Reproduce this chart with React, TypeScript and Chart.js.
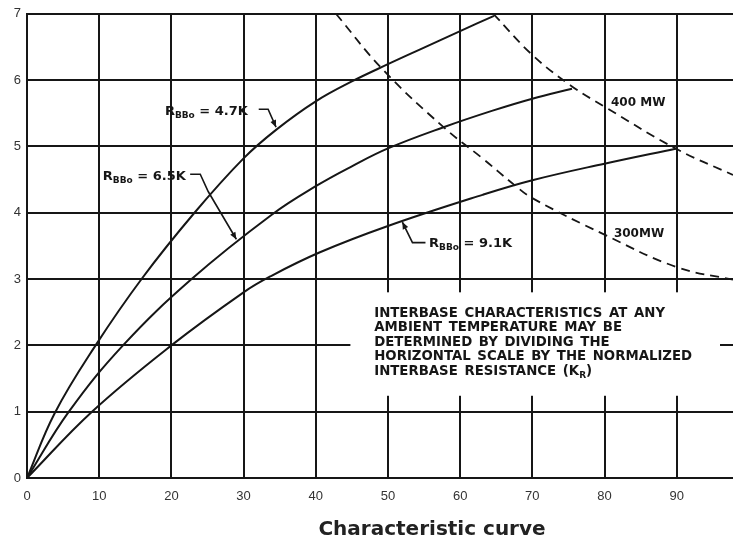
import React, { useEffect, useRef } from "react";
import { Chart, registerables } from "chart.js";

Chart.register(...registerables);

// Axis ticks
const xTicks = [0, 10, 20, 30, 40, 50, 60, 70, 80, 90];
const yTicks = [0, 1, 2, 3, 4, 5, 6, 7];
const xMax = 97.8;
const yMax = 7;

// Interbase characteristic, RBBo = 4.7K
const rbb47X = [0, 3.8, 9.5, 16, 23.2, 30, 34.5, 40, 45, 50, 55, 60, 64.7];
const rbb47Y = [0, 0.97, 2, 3.02, 4, 4.82, 5.25, 5.68, 5.98, 6.24, 6.49, 6.74, 6.97];

// Interbase characteristic, RBBo = 6.5K
const rbb65X = [0, 5.8, 13.3, 22.8, 33.9, 40, 45, 50, 57.7, 64.5, 70, 75.5];
const rbb65Y = [0, 1, 2, 3, 3.97, 4.4, 4.7, 4.97, 5.29, 5.54, 5.72, 5.87];

// Interbase characteristic, RBBo = 9.1K
const rbb91X = [0, 9, 20, 30, 33.7, 40.5, 50, 63.1, 70, 80, 90];
const rbb91Y = [0, 1, 2, 2.8, 3.04, 3.4, 3.8, 4.27, 4.49, 4.74, 4.97];

// Power dissipation limits
const mw400X = [64.6, 70, 75.3, 80, 90, 97.8];
const mw400Y = [7.0, 6.38, 5.92, 5.6, 4.96, 4.57];
const mw300X = [42.8, 49.2, 57.7, 63.1, 67.5, 70, 80, 90, 97.8];
const mw300Y = [7.0, 6.17, 5.29, 4.82, 4.42, 4.22, 3.67, 3.18, 2.99];

// Curve labels (text baseline start, leader polyline ending on the curve)
const curveNotes = [
  { tail: " = 4.7K", at: [19.1, 5.48], leader: [[32.1, 5.56], [33.4, 5.56], [34.5, 5.29]] },
  { tail: " = 6.5K", at: [10.5, 4.5], leader: [[22.6, 4.58], [24.0, 4.58], [25.1, 4.32], [29.0, 3.6]] },
  { tail: " = 9.1K", at: [55.7, 3.49], leader: [[55.2, 3.55], [53.4, 3.55], [52.0, 3.86]] },
];

const powerNotes = [
  { text: "400 MW", at: [80.9, 5.61] },
  { text: "300MW", at: [81.3, 3.63] },
];

const noteLines = [
  "INTERBASE CHARACTERISTICS AT ANY",
  "AMBIENT TEMPERATURE MAY BE",
  "DETERMINED BY DIVIDING THE",
  "HORIZONTAL SCALE BY THE NORMALIZED",
  "INTERBASE RESISTANCE (K",
];
const noteAt = [48.1, 2.43];
const noteBox = { x0: 44.8, x1: 96.0, y0: 1.24, y1: 2.8 };

const titleText = "Characteristic curve";

const INK = "#161616";
const FONT = "'DejaVu Sans', sans-serif";

const pts = (xs: number[], ys: number[]) => xs.map((x, i) => ({ x, y: ys[i] }));

type Run = { t: string; sub?: boolean };

function drawRuns(ctx: CanvasRenderingContext2D, runs: Run[], x: number, y: number, size: number) {
  let cx = x;
  for (const r of runs) {
    const s = r.sub ? Math.round(size * 0.68) : size;
    ctx.font = `bold ${s}px ${FONT}`;
    ctx.fillText(r.t, cx, r.sub ? y + 3 : y);
    cx += ctx.measureText(r.t).width;
  }
}

function arrowHead(ctx: CanvasRenderingContext2D, fx: number, fy: number, tx: number, ty: number) {
  const a = Math.atan2(ty - fy, tx - fx);
  const len = 7;
  const w = 3;
  ctx.beginPath();
  ctx.moveTo(tx, ty);
  ctx.lineTo(tx - len * Math.cos(a) + w * Math.sin(a), ty - len * Math.sin(a) - w * Math.cos(a));
  ctx.lineTo(tx - len * Math.cos(a) - w * Math.sin(a), ty - len * Math.sin(a) + w * Math.cos(a));
  ctx.closePath();
  ctx.fill();
}

const notesPlugin = {
  id: "curveNotes",
  beforeDatasetsDraw(chart: any) {
    const { ctx, scales } = chart;
    const xs = scales.x;
    const ys = scales.y;
    ctx.save();
    ctx.fillStyle = "#ffffff";
    const l = xs.getPixelForValue(noteBox.x0);
    const r = xs.getPixelForValue(noteBox.x1);
    const t = ys.getPixelForValue(noteBox.y1);
    const b = ys.getPixelForValue(noteBox.y0);
    ctx.fillRect(l, t, r - l, b - t);
    ctx.restore();
  },
  afterDatasetsDraw(chart: any) {
    const { ctx, scales } = chart;
    const xs = scales.x;
    const ys = scales.y;
    const P = (p: number[]) => [xs.getPixelForValue(p[0]), ys.getPixelForValue(p[1])];
    ctx.save();
    ctx.fillStyle = INK;
    ctx.strokeStyle = INK;
    ctx.textBaseline = "alphabetic";
    ctx.textAlign = "left";

    for (const n of curveNotes) {
      const [x, y] = P(n.at);
      drawRuns(ctx, [{ t: "R" }, { t: "BBo", sub: true }, { t: n.tail }], x, y, 13);
      const lp = n.leader.map(P);
      ctx.lineWidth = 1.6;
      ctx.beginPath();
      ctx.moveTo(lp[0][0], lp[0][1]);
      for (let i = 1; i < lp.length; i++) ctx.lineTo(lp[i][0], lp[i][1]);
      ctx.stroke();
      const k = lp.length - 1;
      arrowHead(ctx, lp[k - 1][0], lp[k - 1][1], lp[k][0], lp[k][1]);
    }

    for (const n of powerNotes) {
      const [x, y] = P(n.at);
      ctx.font = `bold 12px ${FONT}`;
      ctx.fillText(n.text, x, y);
    }

    const [nx, ny] = P(noteAt);
    (ctx as any).wordSpacing = "2px";
    noteLines.forEach((line, i) => {
      const runs: Run[] = i === noteLines.length - 1
        ? [{ t: line }, { t: "R", sub: true }, { t: ")" }]
        : [{ t: line }];
      drawRuns(ctx, runs, nx, ny + i * 14.5, 13.3);
    });

    ctx.restore();
  },
  afterDraw(chart: any) {
    const { ctx } = chart;
    ctx.save();
    ctx.fillStyle = "#222";
    ctx.font = `bold 20px ${FONT}`;
    ctx.textAlign = "center";
    ctx.textBaseline = "alphabetic";
    ctx.fillText(titleText, 432, 535);
    ctx.restore();
  },
};

export default function App() {
  const canvasRef = useRef<HTMLCanvasElement | null>(null);

  useEffect(() => {
    if (!canvasRef.current) return;
    const solid = { borderColor: INK, borderWidth: 2, pointRadius: 0, fill: false, tension: 0.4 };
    const dashed = { ...solid, borderDash: [9, 6], borderWidth: 1.8 };
    const tickFont = { family: "'Liberation Sans Narrow', 'Liberation Sans', sans-serif", size: 13 };

    const chart = new Chart(canvasRef.current, {
      type: "line",
      data: {
        datasets: [
          { label: "RBBo = 4.7K", data: pts(rbb47X, rbb47Y), ...solid },
          { label: "RBBo = 6.5K", data: pts(rbb65X, rbb65Y), ...solid },
          { label: "RBBo = 9.1K", data: pts(rbb91X, rbb91Y), ...solid },
          { label: "400 MW", data: pts(mw400X, mw400Y), ...dashed },
          { label: "300MW", data: pts(mw300X, mw300Y), ...dashed },
        ],
      },
      options: {
        animation: false,
        responsive: true,
        maintainAspectRatio: false,
        layout: { padding: { top: 10, right: 0, bottom: 0, left: 0 } },
        plugins: { legend: { display: false }, tooltip: { enabled: false }, title: { display: false } },
        scales: {
          x: {
            type: "linear",
            min: 0,
            max: xMax,
            afterBuildTicks: (s: any) => { s.ticks = xTicks.map((v) => ({ value: v })); },
            afterFit: (s: any) => { s.height = 61; },
            grid: { color: INK, lineWidth: 2, drawTicks: false },
            border: { display: true, color: INK, width: 2 },
            ticks: { padding: 11, color: "#333", font: tickFont, maxRotation: 0, autoSkip: false },
          },
          y: {
            type: "linear",
            min: 0,
            max: yMax,
            afterBuildTicks: (s: any) => { s.ticks = yTicks.map((v) => ({ value: v })); },
            afterFit: (s: any) => { s.width = 27; },
            grid: { color: INK, lineWidth: 2, drawTicks: false },
            border: { display: true, color: INK, width: 2 },
            ticks: { padding: 6, color: "#333", font: tickFont },
          },
        },
      },
      plugins: [notesPlugin],
    });
    return () => chart.destroy();
  }, []);

  return (
    <div style={{ position: "absolute", left: 0, top: 0, width: 733, height: 539, background: "#fff" }}>
      <canvas ref={canvasRef} />
    </div>
  );
}
